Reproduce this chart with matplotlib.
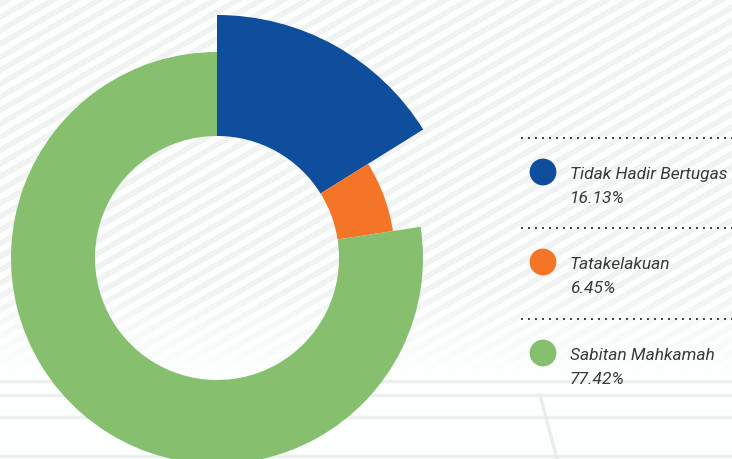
import matplotlib
matplotlib.use("Agg")
import matplotlib.pyplot as plt
import numpy as np
from matplotlib.patches import Wedge, Circle

# data
labels = ["Tidak Hadir Bertugas", "Tatakelakuan", "Sabitan Mahkamah"]
values = [16.13, 6.45, 77.42]
colors = ["#0e4e9c", "#f47528", "#86c06e"]
outer_r = [243, 178, 206]   # each slice has its own outer radius (px)
inner_r = 122

W, H = 732, 459
fig = plt.figure(figsize=(W / 100, H / 100), dpi=100)

# background: faded diagonal stripes + light horizontal bands
yy, xx = np.mgrid[0:H, 0:W]
stripe = ((yy + 0.577 * xx) % 13.3) < 6.5
fade = np.clip((375 - yy) / 90.0, 0, 1)
shade = 1 - stripe * fade * 0.05
bg = np.dstack([shade * 0.995, shade, shade])
ax_bg = fig.add_axes([0, 0, 1, 1])
ax_bg.imshow(bg, extent=(0, W, H, 0), aspect="auto", interpolation="bilinear")
for yl in [381, 395, 417, 456]:
    ax_bg.axhline(yl, color="#eeefef", lw=2.5)
ax_bg.plot([540, 557], [395, 459], color="#ececec", lw=2.5)
ax_bg.set_xlim(0, W)
ax_bg.set_ylim(H, 0)
ax_bg.axis("off")

# donut (pixel coords, y up)
ax = fig.add_axes([0, 0, 1, 1])
ax.set_xlim(0, W)
ax.set_ylim(0, H)
ax.axis("off")
cx, cy = 217, H - 258
start = 90.0
for v, c, r in zip(values, colors, outer_r):
    span = v / sum(values) * 360
    ax.add_patch(Wedge((cx, cy), r, start - span, start, width=r - inner_r,
                       facecolor=c, edgecolor="none"))
    start -= span

# legend
font = dict(family=["Roboto", "DejaVu Sans"], style="italic",
            color="#3a3a3c", fontsize=12.5)
sep_y = [138, 228, 319]
for i, (lab, v, c) in enumerate(zip(labels, values, colors)):
    y0 = H - sep_y[i]
    ax.plot([521, W], [y0, y0], ls=(0, (1, 2.6)), color="#3a3a3c", lw=1.4)
    yc = y0 - 34
    ax.add_patch(Circle((543, yc), 12.7, color=c))
    ax.text(570, yc - 7, lab, va="baseline", **font)
    ax.text(570, yc - 31, "%.2f%%" % v, va="baseline", **font)

fig.savefig("out.png", dpi=100)
